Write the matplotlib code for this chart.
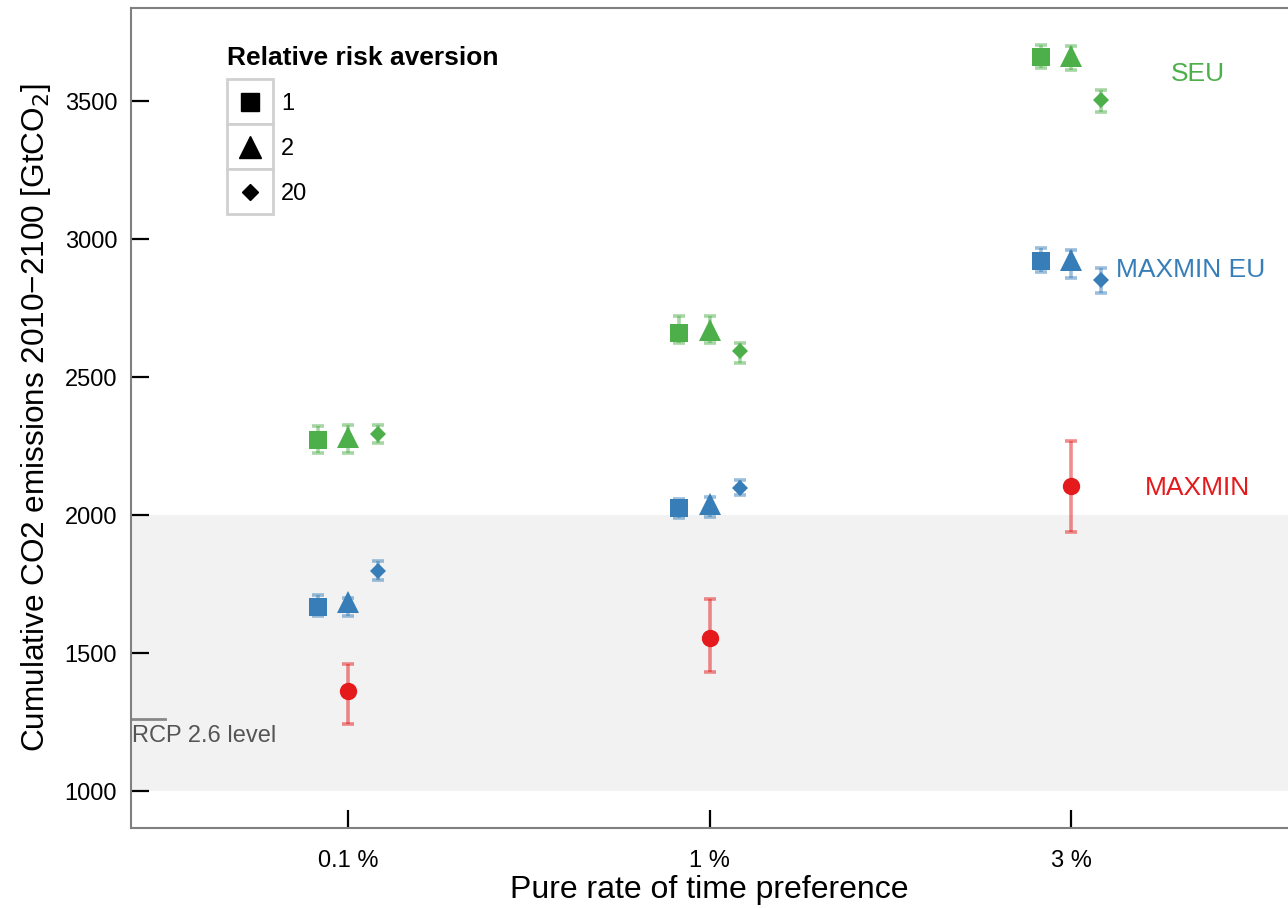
import matplotlib.pyplot as plt
from matplotlib.patches import Rectangle
from matplotlib.lines import Line2D
from matplotlib.legend_handler import HandlerBase
import numpy as np

plt.rcParams['font.family'] = ['Liberation Sans', 'DejaVu Sans']

# Datos
tasas = ["0.1 %", "1 %", "3 %"]
aversion = ["1", "2", "20"]

# SEU: filas = aversión (1, 2, 20), columnas = tasas
seu_media = [[2272, 2659, 3659], [2283, 2670, 3663], [2293, 2594, 3504]]
seu_bajo = [[2225, 2623, 3620], [2225, 2623, 3612], [2261, 2551, 3460]]
seu_alto = [[2322, 2721, 3703], [2326, 2721, 3699], [2326, 2623, 3540]]

# MAXMIN EU
meu_media = [[1667, 2025, 2920], [1685, 2040, 2924], [1797, 2098, 2851]]
meu_bajo = [[1634, 1989, 2880], [1634, 1993, 2859], [1764, 2072, 2804]]
meu_alto = [[1710, 2058, 2967], [1700, 2065, 2960], [1833, 2127, 2895]]

# MAXMIN
mm_media = [1362, 1554, 2105]
mm_bajo = [1243, 1431, 1938]
mm_alto = [1460, 1696, 2268]

rcp26 = 1261

verde = "#4daf4a"
azul = "#377eb8"
rojo = "#e41a1c"
marcadores = ["s", "^", "D"]
tam_marc = [13, 15.5, 8.5]
desplaz = [-0.083, 0.0, 0.083]

fig = plt.figure(figsize=(12.88, 9.08), dpi=100)
ax = fig.add_axes([131 / 1288, 80 / 908, 1 - 131 / 1288, 820.5 / 908])

ax.axhspan(1000, 2000, color="#f2f2f2", zorder=0, lw=0)

x = np.arange(1, 4)


def dibujar(media, bajo, alto, color, marker, ms, dx):
    media = np.array(media)
    err = [media - np.array(bajo), np.array(alto) - media]
    ax.errorbar(x + dx, media, yerr=err, fmt="none", ecolor=color, alpha=0.5,
                elinewidth=2.6, capsize=4.5, capthick=2.6, zorder=2)
    ax.plot(x + dx, media, linestyle="none", marker=marker, markersize=ms,
            color=color, markeredgewidth=0, zorder=3)


for i in range(3):
    dibujar(seu_media[i], seu_bajo[i], seu_alto[i], verde, marcadores[i], tam_marc[i], desplaz[i])
    dibujar(meu_media[i], meu_bajo[i], meu_alto[i], azul, marcadores[i], tam_marc[i], desplaz[i])
dibujar(mm_media, mm_bajo, mm_alto, rojo, "o", 12.5, 0.0)

# Nivel RCP 2.6
ax.plot([0.4, 0.494], [rcp26, rcp26], color="#888888", lw=2, zorder=1)
ax.text(0.402, rcp26 - 22, "RCP 2.6 level", color="#555555", fontsize=17,
        va="top", ha="left")

# Etiquetas de grupos
ax.text(3.35, 3600, "SEU", color=verde, fontsize=19, ha="center", va="center")
ax.text(3.124, 2890, "MAXMIN EU", color=azul, fontsize=19, ha="left", va="center")
ax.text(3.35, 2100, "MAXMIN", color=rojo, fontsize=19, ha="center", va="center")

ax.set_xlim(0.4, 3.6)
ax.set_ylim(866, 3840)
ax.set_xticks(x)
ax.set_xticklabels(tasas)
ax.set_yticks([1000, 1500, 2000, 2500, 3000, 3500])
ax.tick_params(direction="in", length=13, width=1.6, color="black",
               labelsize=17)
ax.tick_params(axis="y", pad=10)
ax.tick_params(axis="x", pad=16)

for lado in ["left", "top", "bottom"]:
    ax.spines[lado].set_color("#808080")
    ax.spines[lado].set_linewidth(1.5)
ax.spines["right"].set_visible(False)

ax.set_xlabel("Pure rate of time preference", fontsize=23, labelpad=2)
ax.set_ylabel("Cumulative CO2 emissions 2010\u22122100 [GtCO$_2$]", fontsize=22.7,
              labelpad=8)


# Leyenda con cajas alrededor de cada símbolo
class CajaMarcador(HandlerBase):
    def create_artists(self, legend, orig_handle, xdescent, ydescent, width,
                       height, fontsize, trans):
        paso = height + legend.labelspacing * fontsize
        caja = Rectangle((-xdescent, -ydescent + height / 2 - paso / 2), width, paso,
                         facecolor="white", edgecolor="#d0d0d0", lw=2,
                         transform=trans)
        m = Line2D([width / 2 - xdescent], [height / 2 - ydescent],
                   marker=orig_handle.get_marker(),
                   markersize=orig_handle.get_markersize(),
                   color="black", linestyle="none", transform=trans)
        return [caja, m]


manejadores = [Line2D([], [], marker="s", markersize=13, color="black", linestyle="none"),
               Line2D([], [], marker="^", markersize=15.5, color="black", linestyle="none"),
               Line2D([], [], marker="D", markersize=8.5, color="black", linestyle="none")]
leg = ax.legend(manejadores, aversion, title="Relative risk aversion",
                loc="upper left", bbox_to_anchor=(0.0705, 0.970), frameon=False,
                fontsize=17, title_fontproperties={"weight": "bold", "size": 19},
                handler_map={Line2D: CajaMarcador()}, handlelength=1.95,
                handleheight=1.35, labelspacing=0.78, handletextpad=0.35,
                alignment="left", borderaxespad=0.2)

fig.savefig("out.png", dpi=100)
